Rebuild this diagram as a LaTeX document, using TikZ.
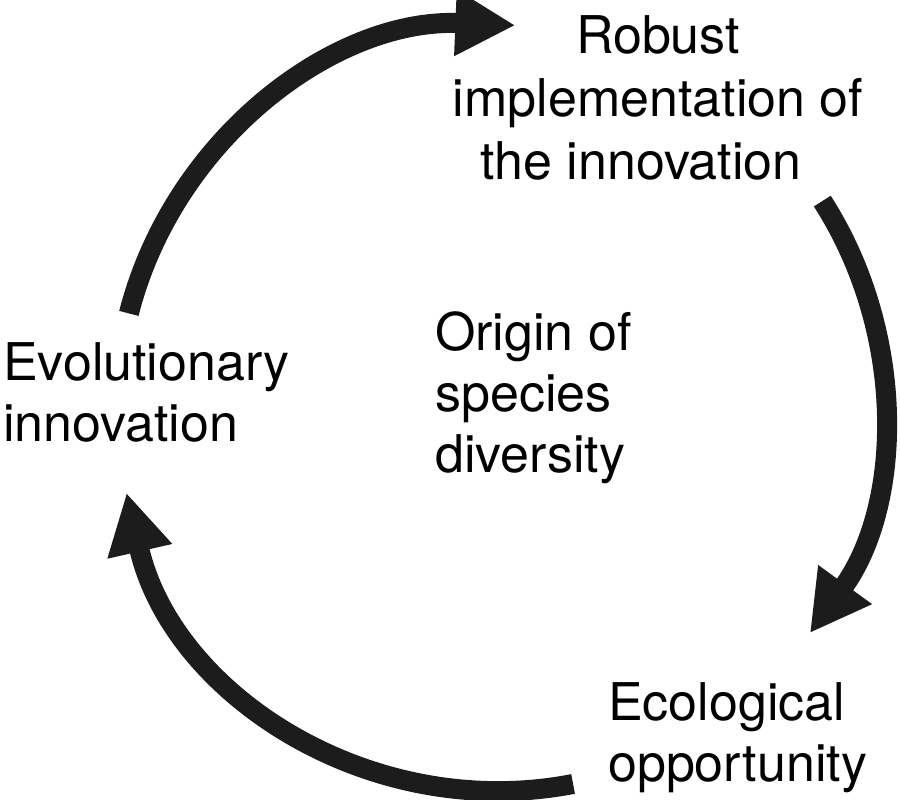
\documentclass[tikz,border=0pt]{standalone}
\usepackage{fontspec}
\setmainfont{TeX Gyre Heros}
\usetikzlibrary{arrows.meta}
\definecolor{arrowgray}{RGB}{28,28,28}
\begin{document}
\begin{tikzpicture}[x=1pt,y=1pt,
  cyc/.style={line width=20pt, draw=arrowgray, -{Triangle[length=60pt,width=62pt,fill=arrowgray]}},
  lab/.style={inner sep=0pt, font=\fontsize{52}{61}\selectfont}]
\useasboundingbox (0,0) rectangle (900,800);
\coordinate (C) at (500,392);
\def\R{383}
\draw[cyc] ([shift={(165.7:\R)}]C) arc[start angle=165.7, end angle=87.7, radius=\R];
\draw[cyc] ([shift={(32.7:\R)}]C) arc[start angle=32.7, end angle=-36, radius=\R];
\draw[cyc] ([shift={(-79:\R)}]C) arc[start angle=-79, end angle=-167.2, radius=\R];
\node[lab, anchor=base, align=center, font=\fontsize{52}{63}\selectfont] (robust) at (658,620) {Robust\\implementation of\\the innovation\hspace*{34pt}};
\node[lab, anchor=base west, align=left] (evo) at (3,358) {Evolutionary\\innovation};
\node[lab, anchor=base west, align=left] (origin) at (435,327) {Origin of\\species\\diversity};
\node[lab, anchor=base west, align=left] (eco) at (608,18) {Ecological\\opportunity};
\end{tikzpicture}
\end{document}
